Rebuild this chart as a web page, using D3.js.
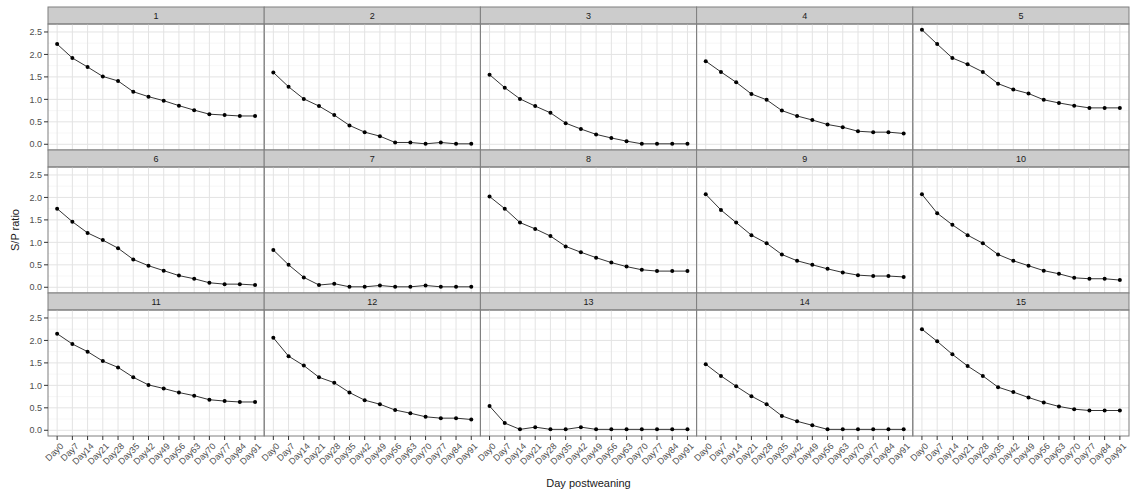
<!doctype html>
<html lang="en">
<head>
<meta charset="UTF-8">
<title>S/P ratio by day postweaning</title>
<script src="https://d3js.org/d3.v7.min.js"></script>
<style>
  body { margin: 0; background: #fff; }
  text { font-family: "Liberation Sans", Arial, sans-serif; }
</style>
</head>
<body>
<div id="chart"></div>
<script>
  // Data
  const days = ['Day0','Day7','Day14','Day21','Day28','Day35','Day42','Day49','Day56','Day63','Day70','Day77','Day84','Day91']
  const animals = ['1','2','3','4','5','6','7','8','9','10','11','12','13','14','15']
  const yTicks = [0, 0.5, 1, 1.5, 2, 2.5]

  const p1 = [2.23, 1.92, 1.72, 1.51, 1.41, 1.17, 1.06, 0.97, 0.86, 0.76, 0.67, 0.65, 0.63, 0.63]
  const p2 = [1.60, 1.28, 1.01, 0.85, 0.65, 0.42, 0.27, 0.18, 0.04, 0.04, 0.01, 0.04, 0.01, 0.01]
  const p3 = [1.55, 1.26, 1.01, 0.85, 0.70, 0.47, 0.34, 0.22, 0.14, 0.07, 0.01, 0.01, 0.01, 0.01]
  const p4 = [1.85, 1.61, 1.38, 1.12, 0.99, 0.75, 0.63, 0.54, 0.44, 0.38, 0.29, 0.27, 0.27, 0.24]
  const p5 = [2.55, 2.23, 1.92, 1.78, 1.61, 1.35, 1.22, 1.13, 0.99, 0.92, 0.86, 0.81, 0.81, 0.81]
  const p6 = [1.75, 1.46, 1.21, 1.05, 0.87, 0.62, 0.48, 0.37, 0.26, 0.19, 0.10, 0.07, 0.07, 0.05]
  const p7 = [0.83, 0.50, 0.22, 0.05, 0.08, 0.01, 0.01, 0.04, 0.01, 0.01, 0.04, 0.01, 0.01, 0.01]
  const p8 = [2.02, 1.75, 1.44, 1.30, 1.14, 0.91, 0.78, 0.66, 0.55, 0.46, 0.39, 0.36, 0.36, 0.36]
  const p9 = [2.07, 1.72, 1.44, 1.16, 0.98, 0.73, 0.59, 0.50, 0.41, 0.33, 0.27, 0.25, 0.25, 0.23]
  const p10 = [2.07, 1.65, 1.39, 1.16, 0.98, 0.73, 0.59, 0.48, 0.37, 0.30, 0.21, 0.19, 0.19, 0.16]
  const p11 = [2.15, 1.92, 1.75, 1.54, 1.40, 1.18, 1.01, 0.93, 0.84, 0.77, 0.68, 0.65, 0.63, 0.63]
  const p12 = [2.06, 1.65, 1.44, 1.18, 1.06, 0.84, 0.67, 0.58, 0.45, 0.38, 0.30, 0.27, 0.27, 0.24]
  const p13 = [0.54, 0.16, 0.02, 0.07, 0.02, 0.02, 0.07, 0.02, 0.02, 0.02, 0.02, 0.02, 0.02, 0.02]
  const p14 = [1.47, 1.21, 0.98, 0.76, 0.58, 0.32, 0.20, 0.11, 0.02, 0.02, 0.02, 0.02, 0.02, 0.02]
  const p15 = [2.25, 1.98, 1.69, 1.43, 1.21, 0.96, 0.85, 0.73, 0.62, 0.53, 0.47, 0.44, 0.44, 0.44]
  const series = [p1, p2, p3, p4, p5, p6, p7, p8, p9, p10, p11, p12, p13, p14, p15]

  // Dimensions
  const dims = {
    width: 1136, height: 495,
    left: 48, right: 1129, top: 7,
    cols: 5, rows: 3,
    stripH: 17, panelH: 126
  }
  dims.panelW = (dims.right - dims.left) / dims.cols

  const svg = d3.select('#chart').append('svg')
    .attr('width', dims.width)
    .attr('height', dims.height)

  // Scales (ggplot style expansion)
  const xScale = d3.scalePoint()
    .domain(days)
    .range([0, dims.panelW])
    .padding(0.6)

  const yMax = 2.55
  const pad = yMax * 0.05
  const yScale = d3.scaleLinear()
    .domain([-pad, yMax + pad])
    .range([dims.panelH, 0])

  const minorTicks = [0.25, 0.75, 1.25, 1.75, 2.25]

  const line = d3.line()
    .x((d, i) => xScale(days[i]))
    .y(d => yScale(d))

  series.forEach((vals, k) => {
    const col = k % dims.cols
    const row = Math.floor(k / dims.cols)
    const x0 = dims.left + col * dims.panelW
    const y0 = dims.top + row * (dims.stripH + dims.panelH)
    const pw = dims.panelW, ph = dims.panelH

    const g = svg.append('g').attr('transform', `translate(${x0}, ${y0})`)

    // strip
    g.append('rect')
      .attr('width', pw).attr('height', dims.stripH)
      .attr('fill', '#cccccc').attr('stroke', '#7f7f7f').attr('stroke-width', 1)
    g.append('text')
      .attr('x', pw / 2).attr('y', dims.stripH / 2)
      .attr('dy', '0.35em')
      .attr('text-anchor', 'middle')
      .attr('font-size', 9)
      .attr('fill', '#1a1a1a')
      .text(animals[k])

    const p = g.append('g').attr('transform', `translate(0, ${dims.stripH})`)

    // grid
    p.selectAll('.minor').data(minorTicks).join('line')
      .attr('class', 'minor')
      .attr('x1', 0).attr('x2', pw)
      .attr('y1', d => yScale(d)).attr('y2', d => yScale(d))
      .attr('stroke', '#f2f2f2').attr('stroke-width', 0.6)
    p.selectAll('.major').data(yTicks).join('line')
      .attr('class', 'major')
      .attr('x1', 0).attr('x2', pw)
      .attr('y1', d => yScale(d)).attr('y2', d => yScale(d))
      .attr('stroke', '#e3e3e3').attr('stroke-width', 1)
    p.selectAll('.vgrid').data(days).join('line')
      .attr('class', 'vgrid')
      .attr('x1', d => xScale(d)).attr('x2', d => xScale(d))
      .attr('y1', 0).attr('y2', ph)
      .attr('stroke', '#e3e3e3').attr('stroke-width', 1)

    // data
    p.append('path')
      .datum(vals)
      .attr('d', line)
      .attr('fill', 'none')
      .attr('stroke', '#000')
      .attr('stroke-width', 0.8)
    p.selectAll('circle').data(vals).join('circle')
      .attr('cx', (d, i) => xScale(days[i]))
      .attr('cy', d => yScale(d))
      .attr('r', 2)
      .attr('fill', '#000')

    // border
    p.append('rect')
      .attr('width', pw).attr('height', ph)
      .attr('fill', 'none').attr('stroke', '#7f7f7f').attr('stroke-width', 1)

    // y axis on first column
    if (col === 0) {
      const ax = p.append('g')
      ax.selectAll('line').data(yTicks).join('line')
        .attr('x1', -4).attr('x2', 0)
        .attr('y1', d => yScale(d)).attr('y2', d => yScale(d))
        .attr('stroke', '#333')
      ax.selectAll('text').data(yTicks).join('text')
        .attr('x', -6).attr('y', d => yScale(d))
        .attr('dy', '0.35em')
        .attr('text-anchor', 'end')
        .attr('font-size', 9)
        .attr('fill', '#4d4d4d')
        .text(d => d3.format('.1f')(d))
    }

    // x axis on bottom row
    if (row === dims.rows - 1) {
      const ax = p.append('g').attr('transform', `translate(0, ${ph})`)
      ax.selectAll('line').data(days).join('line')
        .attr('x1', d => xScale(d)).attr('x2', d => xScale(d))
        .attr('y1', 0).attr('y2', 4)
        .attr('stroke', '#333')
      ax.selectAll('text').data(days).join('text')
        .attr('transform', d => `translate(${xScale(d) + 3}, 7) rotate(-45)`)
        .attr('dy', '0.6em')
        .attr('text-anchor', 'end')
        .attr('font-size', 9)
        .attr('fill', '#4d4d4d')
        .text(d => d)
    }
  })

  // axis titles
  svg.append('text')
    .attr('transform', `translate(19, 230) rotate(-90)`)
    .attr('text-anchor', 'middle')
    .attr('font-size', 11)
    .attr('fill', '#1a1a1a')
    .text('S/P ratio')

  svg.append('text')
    .attr('x', (dims.left + dims.right) / 2).attr('y', 487)
    .attr('text-anchor', 'middle')
    .attr('font-size', 11)
    .attr('fill', '#1a1a1a')
    .text('Day postweaning')
</script>
</body>
</html>
